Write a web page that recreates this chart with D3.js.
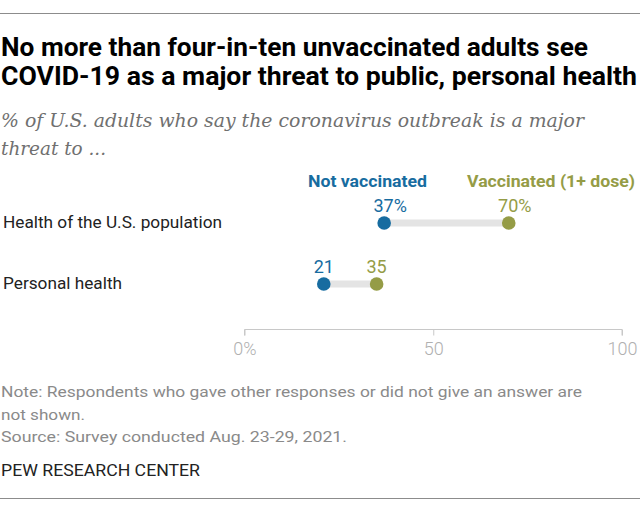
<!DOCTYPE html>
<html><head><meta charset="utf-8">
<script src="https://cdn.jsdelivr.net/npm/d3@7"></script>
<style>body{margin:0;background:#fff}svg{display:block}</style>
</head><body>
<script>
const categories = ["Health of the U.S. population", "Personal health"];
const notVaccinated = [37, 21];
const vaccinated = [70, 35];
const valueLabelsNot = ["37%", "21"];
const valueLabelsVac = ["70%", "35"];
const seriesNames = ["Not vaccinated", "Vaccinated (1+ dose)"];
const tickValues = [0, 50, 100];
const tickLabels = ["0%", "50", "100"];
const titleLines = ["No more than four-in-ten unvaccinated adults see", "COVID-19 as a major threat to public, personal health"];
const subtitleLines = ["% of U.S. adults who say the coronavirus outbreak is a major", "threat to ..."];
const noteLines = ["Note: Respondents who gave other responses or did not give an answer are", "not shown.", "Source: Survey conducted Aug. 23-29, 2021."];
const credit = "PEW RESEARCH CENTER";

const W = 640, H = 510;
const blue = "#176ca0", olive = "#959c46";
const svg = d3.select("body").append("svg").attr("width", W).attr("height", H);

svg.append("line").attr("x1",0).attr("x2",W).attr("y1",13.5).attr("y2",13.5).attr("stroke","#8c8c8c").attr("stroke-width",1);
svg.append("line").attr("x1",0).attr("x2",W).attr("y1",498.5).attr("y2",498.5).attr("stroke","#8c8c8c").attr("stroke-width",1);

const titleW = [588, 637];
svg.selectAll("text.title").data(titleLines).join("text").attr("class","title")
  .attr("x",1).attr("y",(d,i)=>55.5+i*29)
  .attr("font-family","'Liberation Sans Narrow','Roboto','Liberation Sans',sans-serif")
  .attr("font-weight","bold").attr("font-size",25).attr("fill","#000")
  .attr("textLength",(d,i)=>titleW[i]-1).attr("lengthAdjust","spacingAndGlyphs")
  .text(d=>d);

const subW = [584, 106];
svg.selectAll("text.sub").data(subtitleLines).join("text").attr("class","sub")
  .attr("x",1).attr("y",(d,i)=>127+i*28)
  .attr("font-family","'DejaVu Serif','Liberation Serif',serif")
  .attr("font-style","italic").attr("font-size",19).attr("fill","#707070")
  .attr("textLength",(d,i)=>subW[i]-1).attr("lengthAdjust","spacingAndGlyphs")
  .text(d=>d);

const x = d3.scaleLinear().domain([0,100]).range([244.5,622]);
const y = d3.scalePoint().domain(categories).range([223,284]);

// legend
svg.append("text").attr("x",367.5).attr("y",187).attr("text-anchor","middle")
  .attr("font-family","'Roboto','Liberation Sans',sans-serif").attr("font-weight","bold").attr("font-size",16)
  .attr("fill",blue).attr("textLength",119).attr("lengthAdjust","spacingAndGlyphs").text(seriesNames[0]);
svg.append("text").attr("x",551).attr("y",187).attr("text-anchor","middle")
  .attr("font-family","'Roboto','Liberation Sans',sans-serif").attr("font-weight","bold").attr("font-size",16)
  .attr("fill",olive).attr("textLength",168).attr("lengthAdjust","spacingAndGlyphs").text(seriesNames[1]);

// category labels
const catW = [219, 119];
svg.selectAll("text.cat").data(categories).join("text").attr("class","cat")
  .attr("x",3).attr("y",d=>y(d)+4.5)
  .attr("font-family","'Roboto','Liberation Sans',sans-serif").attr("font-size",16).attr("fill","#222")
  .attr("textLength",(d,i)=>catW[i]).attr("lengthAdjust","spacingAndGlyphs")
  .text(d=>d);

const rows = categories.map((c,i)=>({c, a:notVaccinated[i], b:vaccinated[i], la:valueLabelsNot[i], lb:valueLabelsVac[i]}));

svg.selectAll("line.bar").data(rows).join("line").attr("class","bar")
  .attr("x1",d=>x(d.a)).attr("x2",d=>x(d.b)).attr("y1",d=>y(d.c)).attr("y2",d=>y(d.c))
  .attr("stroke","#e4e4e4").attr("stroke-width",7);

svg.selectAll("circle.a").data(rows).join("circle").attr("class","a")
  .attr("cx",d=>x(d.a)).attr("cy",d=>y(d.c)).attr("r",6.8).attr("fill",blue);
svg.selectAll("circle.b").data(rows).join("circle").attr("class","b")
  .attr("cx",d=>x(d.b)).attr("cy",d=>y(d.c)).attr("r",6.8).attr("fill",olive);

const pctShift = s => s.includes("%") ? 6 : 0;
svg.selectAll("text.la").data(rows).join("text").attr("class","la")
  .attr("x",d=>x(d.a)+pctShift(d.la)).attr("y",d=>y(d.c)-11).attr("text-anchor","middle")
  .attr("font-family","'Roboto','Liberation Sans',sans-serif").attr("font-size",18).attr("fill",blue)
  .text(d=>d.la);
svg.selectAll("text.lb").data(rows).join("text").attr("class","lb")
  .attr("x",d=>x(d.b)+pctShift(d.lb)).attr("y",d=>y(d.c)-11).attr("text-anchor","middle")
  .attr("font-family","'Roboto','Liberation Sans',sans-serif").attr("font-size",18).attr("fill",olive)
  .text(d=>d.lb);

// axis
const axis = d3.axisBottom(x).tickValues(tickValues).tickSize(6).tickSizeOuter(0)
  .tickFormat((d,i)=>tickLabels[i]);
const g = svg.append("g").attr("transform","translate(0,329.5)").call(axis);
g.select(".domain").attr("stroke","#c8c8c8").attr("d", `M${x(0)},6V0H${x(100)}V6`);
g.selectAll(".tick line").attr("stroke","#c8c8c8");
g.selectAll(".tick text").attr("font-family","'Roboto','Liberation Sans',sans-serif")
  .attr("font-size",18).attr("font-weight",300).attr("fill","#b0b0b0").attr("dy",0).attr("y",25.5);

// notes
const noteW = [581, 84, 346];
svg.selectAll("text.note").data(noteLines).join("text").attr("class","note")
  .attr("x",1).attr("y",(d,i)=>397+i*22.5)
  .attr("font-family","'Roboto','Liberation Sans',sans-serif").attr("font-size",15).attr("fill","#8a8a8a")
  .attr("textLength",(d,i)=>noteW[i]).attr("lengthAdjust","spacingAndGlyphs")
  .text(d=>d);
svg.append("text").attr("x",1).attr("y",476)
  .attr("font-family","'Roboto','Liberation Sans',sans-serif").attr("font-size",16).attr("fill","#222")
  .attr("textLength",199).attr("lengthAdjust","spacingAndGlyphs").text(credit);
</script>
</body></html>
